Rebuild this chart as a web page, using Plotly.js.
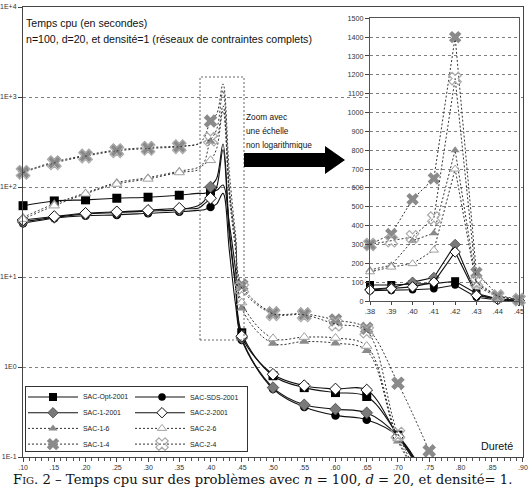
<!DOCTYPE html>
<html><head><meta charset="utf-8">
<script src="https://cdn.plot.ly/plotly-3.0.1.min.js"></script>
<style>body{margin:0;background:#fff}#chart{width:529px;height:488px}</style>
</head><body><div id="chart"></div>
<script>
// ---------- data ----------
const hardness = [0.10,0.15,0.20,0.25,0.30,0.35,0.38,0.39,0.40,0.41,0.42,0.43,0.44,0.45,0.50,0.55,0.60,0.65,0.70,0.75];
const sacOpt2001 = [62,70,72,75,77,81,85,85,90,92,105,40,12,2.4,0.80,0.59,0.52,0.47,0.175,0.05];
const sacSds2001 = [39.5,45,48,49,51,53,55,56,60,65,85,20,5,2.0,0.57,0.36,0.29,0.26,0.17,0.05];
const sac1_2001  = [41,46,50,52,54,56,62,70,100,125,300,35,8,2.1,0.59,0.38,0.34,0.31,0.17,0.05];
const sac2_2001  = [43,47,51,53,55,58,58,65,75,100,260,30,8,2.2,0.83,0.62,0.57,0.555,0.17,0.05];
const sac1_6     = [46,65,86,112,127,150,165,190,320,360,800,90,25,4.5,1.83,1.92,1.84,1.52,0.15,0.04];
const sac2_6     = [44,62,84,108,123,145,155,180,198,270,700,80,20,5.2,2.08,2.15,2.1,1.71,0.16,0.04];
const sac1_4     = [148,190,225,258,274,285,300,355,540,650,1400,150,30,8.1,4.0,3.9,3.33,2.69,0.66,0.117];
const sac2_4     = [145,185,220,252,268,280,300,320,340,440,1180,100,25,7.5,3.9,3.8,3.0,2.5,0.18,0.04];
const seriesNames = ['SAC-Opt-2001','SAC-SDS-2001','SAC-1-2001','SAC-2-2001','SAC-1-6','SAC-2-6','SAC-1-4','SAC-2-4'];
const seriesValues = [sacOpt2001,sacSds2001,sac1_2001,sac2_2001,sac1_6,sac2_6,sac1_4,sac2_4];
const mainTickVals = [0.10,0.15,0.20,0.25,0.30,0.35,0.40,0.45,0.50,0.55,0.60,0.65,0.70,0.75,0.80,0.85,0.90];
const logTickVals = [0.1,1,10,100,1000,10000];
const logTickText = ['1E-1','1E0','1E+1','1E+2','1E+3','1E+4'];
const zoomTickVals = [0.38,0.39,0.40,0.41,0.42,0.43,0.44,0.45];
const zoomYTicks = [0,100,200,300,400,500,600,700,800,900,1000,1100,1200,1300,1400,1500];

// ---------- styles ----------
const SANS = '"Liberation Sans", Arial, Helvetica, sans-serif';
const solid = {color:'#111', width:1.1};
const dotted = {color:'#333', width:1, dash:'2px,2px'};
const styles = [
  {line:solid,  marker:{symbol:'square', size:9, color:'#000'}},
  {line:solid,  marker:{symbol:'circle', size:8.5, color:'#000'}},
  {line:solid,  marker:{symbol:'diamond', size:9, color:'#7a7a7a', line:{color:'#444',width:0.8}}},
  {line:solid,  marker:{symbol:'diamond', size:9, color:'#fff', line:{color:'#111',width:1}}},
  {line:dotted, marker:{symbol:'triangle-up', size:9, color:'#8a8a8a'}},
  {line:dotted, marker:{symbol:'triangle-up', size:9, color:'#fff', line:{color:'#a0a0a0',width:1}}},
  {line:dotted, marker:{symbol:'x', size:12, color:'#8a8a8a'}},
  {line:dotted, marker:{symbol:'x-open', size:12, color:'#aaaaaa', line:{width:1.2}}}
];

const isMajor = v => Math.abs(v*20 - Math.round(v*20)) < 1e-6;
const traces = [];
seriesValues.forEach((vals,i) => {
  traces.push({x:hardness, y:vals, type:'scatter', mode:'lines', line:Object.assign({shape:'spline', smoothing:1}, styles[i].line),
    xaxis:'x', yaxis:'y', showlegend:false, hoverinfo:'skip'});
  const mx = [], my = [];
  hardness.forEach((h,k) => { if(isMajor(h) && vals[k] >= 0.1){ mx.push(h); my.push(vals[k]); } });
  traces.push({x:mx, y:my, type:'scatter', mode:'markers', marker:styles[i].marker, cliponaxis:false,
    xaxis:'x', yaxis:'y', showlegend:false, hoverinfo:'skip'});
});
seriesValues.forEach((vals,i) => {
  const zx = [], zy = [];
  hardness.forEach((h,k) => { if(h >= 0.38-1e-9 && h <= 0.45+1e-9){ zx.push(h); zy.push(vals[k]); } });
  traces.push({x:zx, y:zy, type:'scatter', mode:'lines+markers', line:styles[i].line,
    marker:Object.assign({}, styles[i].marker, {size:styles[i].marker.size-1}), cliponaxis:false,
    xaxis:'x2', yaxis:'y2', showlegend:false, hoverinfo:'skip'});
});
const annotations = [];
seriesNames.forEach((name,i) => {
  const col = i % 2, row = Math.floor(i/2);
  const x0 = 28 + col*107, yy = 397 + row*15.7;
  traces.push({x:[x0, x0+50], y:[yy, yy], type:'scatter', mode:'lines', line:styles[i].line,
    xaxis:'x3', yaxis:'y3', showlegend:false, hoverinfo:'skip'});
  traces.push({x:[x0+25+col*2], y:[yy], type:'scatter', mode:'markers', marker:Object.assign({}, styles[i].marker, {size:styles[i].marker.size-1}),
    cliponaxis:false, xaxis:'x3', yaxis:'y3', showlegend:false, hoverinfo:'skip'});
  annotations.push({xref:'x3', yref:'y3', x:x0+53, y:yy, text:name, showarrow:false, xanchor:'left', yanchor:'middle',
    font:{family:SANS, size:6.9, color:'#222'}});
});

// ---------- layout helpers ----------
const ML = 23, MR = 6, MT = 7, MB = 31, W = 529, H = 488;
const PW = W-ML-MR, PH = H-MT-MB;
const px = v => (v-ML)/PW;
const py = v => (H-MB-v)/PH;

const arrowPts = [[244,153],[325,153],[325,146],[345,160],[325,174],[325,167],[244,167]];
const arrowPath = 'M' + arrowPts.map(p => px(p[0]).toFixed(4)+','+py(p[1]).toFixed(4)).join(' L') + ' Z';

const txt = (x,y,text,size,anchor) => ({xref:'paper', yref:'paper', x:px(x), y:py(y), text:text, showarrow:false,
  xanchor:anchor||'left', yanchor:'middle', font:{family:SANS, size:size, color:'#111'}});

annotations.push(txt(24,23,'Temps cpu (en secondes)',10.6));
annotations.push(txt(24,39,'n=100, d=20, et densité=1 (réseaux de contraintes complets)',10.6));
annotations.push(txt(244,117,'Zoom avec',8.3));
annotations.push(txt(244,131,'une échelle',8.3));
annotations.push(txt(244,145,'non logarithmique',8.3));
annotations.push(txt(515,446,'Dureté',10.7,'right'));
annotations.push({xref:'paper', yref:'paper', x:px(262), y:py(479), showarrow:false, xanchor:'center', yanchor:'middle',
  text:'F<span style="font-size:10px">IG</span>. 2 – Temps cpu sur des problèmes avec <i>n</i> = 100, <i>d</i> = 20, et densité= 1.',
  font:{family:'"DejaVu Serif", "Liberation Serif", serif', size:13.2, color:'#111'}});

const layout = {
  width:W, height:H, margin:{l:ML, r:MR, t:MT, b:MB},
  paper_bgcolor:'#fff', plot_bgcolor:'#fff', showlegend:false,
  xaxis:{domain:[0,1], range:[0.0999,0.9001], tickmode:'array', tickvals:mainTickVals,
    ticktext:mainTickVals.map(v => v.toFixed(2).replace(/^0/,'')), ticks:'outside', ticklen:4, tickcolor:'#444',
    ticklabeloverflow:'allow',
    minor:{tickmode:'linear', tick0:0.10, dtick:0.01, ticks:'outside', ticklen:3, tickcolor:'#555', showgrid:false},
    showline:true, mirror:true, linecolor:'#444', linewidth:1, showgrid:false, zeroline:false,
    tickfont:{family:SANS, size:7, color:'#333'}},
  yaxis:{domain:[0,1], type:'log', range:[-1,4], tickmode:'array', tickvals:logTickVals, ticktext:logTickText,
    ticks:'outside', ticklen:4, tickcolor:'#444', showline:true, mirror:true, linecolor:'#444', linewidth:1,
    ticklabeloverflow:'allow',
    showgrid:true, gridcolor:'#808080', griddash:'dot', gridwidth:1, zeroline:false,
    tickfont:{family:SANS, size:7, color:'#333'}},
  xaxis2:{anchor:'y2', domain:[px(370), px(519)], range:[0.38,0.45], tickmode:'array', tickvals:zoomTickVals,
    ticktext:zoomTickVals.map(v => v.toFixed(2).replace(/^0/,'')), ticks:'outside', ticklen:3, tickcolor:'#444',
    showline:true, mirror:true, linecolor:'#555', showgrid:false, zeroline:false,
    tickfont:{family:SANS, size:7.5, color:'#333'}},
  yaxis2:{anchor:'x2', domain:[py(301), py(18.3)], range:[0,1500], tickmode:'array', tickvals:zoomYTicks,
    ticks:'outside', ticklen:4, tickcolor:'#444', showline:true, mirror:true, linecolor:'#555',
    showgrid:true, gridcolor:'#808080', griddash:'dot', zeroline:false,
    tickfont:{family:SANS, size:7.2, color:'#333'}},
  xaxis3:{anchor:'y3', domain:[px(26), px(247)], range:[26,247], showline:true, mirror:true, linecolor:'#333',
    showgrid:false, zeroline:false, showticklabels:false, ticks:'', fixedrange:true},
  yaxis3:{anchor:'x3', domain:[py(451), py(387)], range:[451,387], showline:true, mirror:true, linecolor:'#333',
    showgrid:false, zeroline:false, showticklabels:false, ticks:'', fixedrange:true},
  shapes:[
    {type:'rect', xref:'paper', yref:'paper', x0:px(200), x1:px(244), y0:py(340), y1:py(77),
      line:{color:'#666', width:1, dash:'2px,2px'}},
    {type:'path', xref:'paper', yref:'paper', path:arrowPath, fillcolor:'#000', line:{color:'#000', width:0}}
  ],
  annotations:annotations
};
Plotly.newPlot('chart', traces, layout, {staticPlot:true});
</script></body></html>
